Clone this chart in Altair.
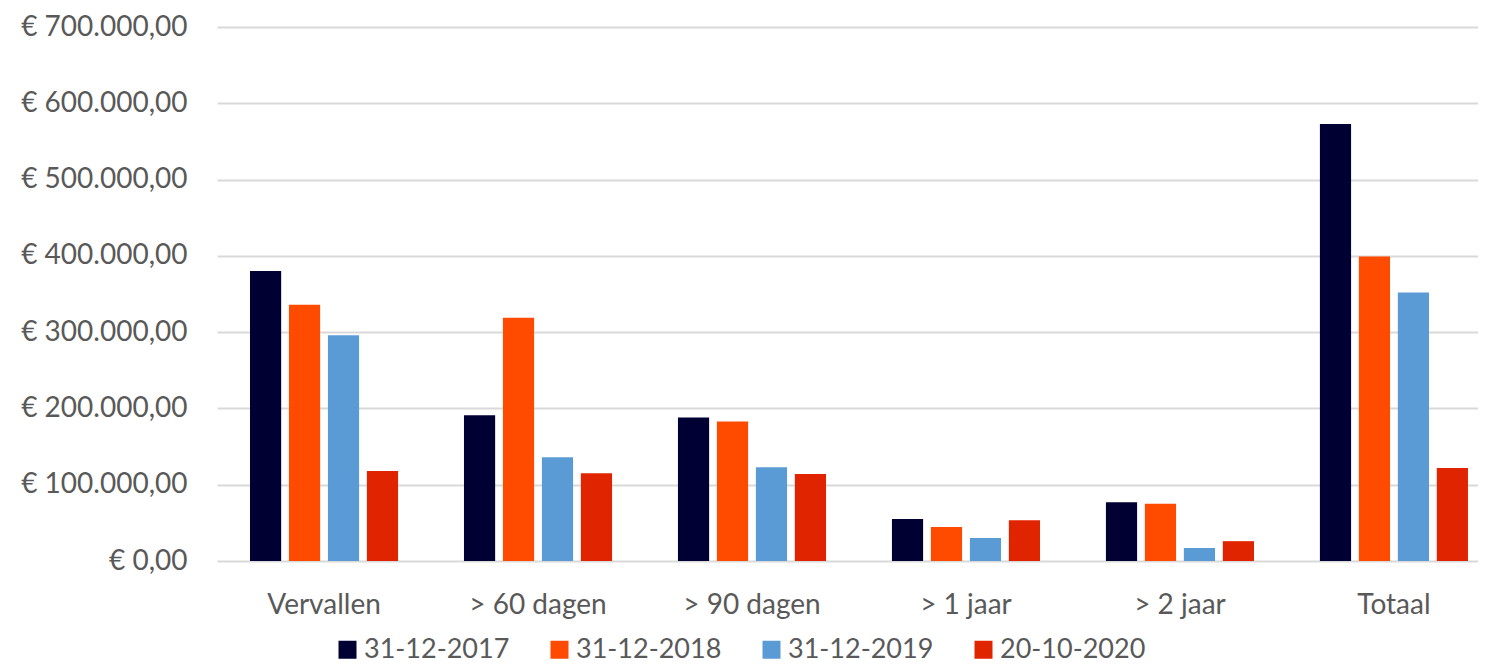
import altair as alt
import pandas as pd

categories = ["Vervallen", "> 60 dagen", "> 90 dagen", "> 1 jaar", "> 2 jaar", "Totaal"]
series = ["31-12-2017", "31-12-2018", "31-12-2019", "20-10-2020"]
colors = ["#000033", "#FF4B00", "#5B9BD5", "#E02400"]

v2017 = [380000, 191000, 188000, 55000, 77000, 573000]
v2018 = [336000, 319000, 183000, 44500, 75000, 399000]
v2019 = [296000, 136000, 123000, 30000, 17000, 352000]
v2020 = [118000, 115000, 114000, 53500, 26000, 122000]

rows = []
for s, vals in zip(series, [v2017, v2018, v2019, v2020]):
    for c, v in zip(categories, vals):
        rows.append({"categorie": c, "datum": s, "bedrag": v})
df = pd.DataFrame(rows)

FONT = "Lato"
TXT = "#595959"

chart = alt.Chart(df).mark_bar().encode(
    x=alt.X("categorie:N", sort=categories, title=None,
            scale=alt.Scale(paddingInner=0.308, paddingOuter=0.1005, align=0.767),
            axis=alt.Axis(labelAngle=0, labelFontSize=28, labelFont=FONT, labelColor=TXT,
                          labelPadding=30, domain=False, ticks=False, grid=False)),
    xOffset=alt.XOffset("datum:N", sort=series, scale=alt.Scale(paddingInner=0.2)),
    y=alt.Y("bedrag:Q", title=None,
            scale=alt.Scale(domain=[0, 700000], nice=False),
            axis=alt.Axis(values=[0, 100000, 200000, 300000, 400000, 500000, 600000, 700000],
                          format="$,.2f", labelFontSize=28, labelFont=FONT, labelColor=TXT,
                          labelPadding=30, domain=False, ticks=False,
                          gridColor="#D9D9D9", gridWidth=2)),
    color=alt.Color("datum:N", sort=series,
                    scale=alt.Scale(domain=series, range=colors),
                    legend=alt.Legend(title=None, orient="none", legendX=117, legendY=609,
                                      direction="horizontal", columns=4,
                                      symbolType="square", symbolSize=324,
                                      symbolStrokeWidth=0,
                                      labelFontSize=27, labelFont=FONT, labelColor=TXT,
                                      labelOffset=3, columnPadding=36)),
).properties(
    width=1261, height=534,
    padding={"left": 209, "top": 19, "right": 0, "bottom": 102},
    autosize=alt.AutoSizeParams(type="none"),
).configure_view(stroke=None)

chart.save("out.html", embed_options={
    "renderer": "svg", "actions": False,
    "formatLocale": {"decimal": ",", "thousands": ".", "grouping": [3], "currency": ["€ ", ""]},
})
